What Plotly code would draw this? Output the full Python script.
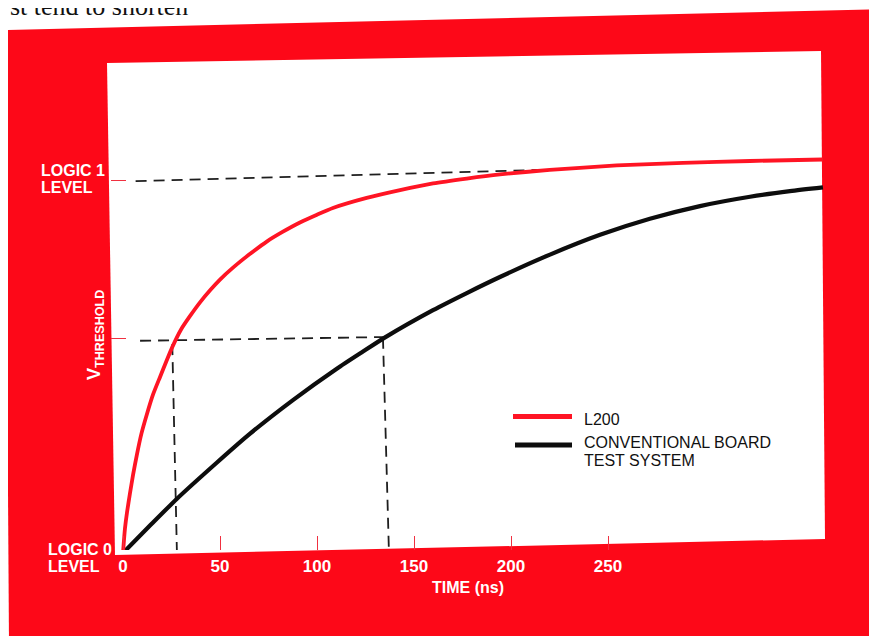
import plotly.graph_objects as go

# ---------------- data ----------------
# time in ns; voltage normalised so that LOGIC 0 = 0 and LOGIC 1 = 1
l200_name = "L200"
l200_t = [0, 1.0, 2.1, 3.6, 5.2, 7.1, 9.5, 12.2, 15.5, 19.1, 22.2, 25.4, 30.0,
          34.5, 39.7, 45.0, 50.0, 56.7, 65.0, 74.1, 82.0, 91.2, 100.0, 108.2,
          125.6, 142.8, 159.8, 177.2, 194.3, 220.0, 254.5, 288.7, 323.2, 360.8]
l200_v = [0, 0.065, 0.110, 0.160, 0.210, 0.262, 0.320, 0.370, 0.425, 0.472,
          0.512, 0.552, 0.600, 0.635, 0.672, 0.705, 0.733, 0.765, 0.800, 0.835,
          0.860, 0.886, 0.907, 0.925, 0.952, 0.973, 0.991, 1.004, 1.015, 1.027,
          1.039, 1.046, 1.051, 1.055]

conv_name_1 = "CONVENTIONAL BOARD"
conv_name_2 = "TEST SYSTEM"
conv_t = [0, 13.9, 27.7, 48.3, 65.5, 87.6, 110.2, 123.7, 135.1, 159.8, 177.2,
          194.3, 220.1, 245.9, 271.6, 297.4, 323.2, 343.8, 360.8]
conv_v = [0, 0.0735, 0.145, 0.242, 0.320, 0.410, 0.494, 0.540, 0.578, 0.651,
          0.697, 0.740, 0.800, 0.853, 0.896, 0.930, 0.955, 0.970, 0.980]

# dashed guide lines (as drawn in the picture)
logic1_t = [6.5, 215.0]
logic1_v = [0.997, 1.027]
thr_t = [8.8, 135.0]
thr_v = [0.569, 0.579]
thr_l200_t = [25.4, 27.8]
thr_l200_v = [0.560, 0.0]
thr_conv_t = [134.0, 137.1]
thr_conv_v = [0.577, 0.0]

time_ticks = [0, 50, 100, 150, 200, 250]
level_ticks = [0.574, 1.0]
x_title = "TIME (ns)"
y_title = "V<sub>THRESHOLD</sub>"
logic1_label = ["LOGIC 1", "LEVEL"]
logic0_label = ["LOGIC 0", "LEVEL"]
top_text = "st tend to shorten"

# ---------------- layout helpers ----------------
# the page body adds an 8 px offset, so the figure is drawn 8 px smaller
OFF = 8
W, H = 877 - OFF, 636 - OFF
L, R, T, B = 111 - OFF, 52, 50 - OFF, 86
PW, PH = W - L - R, H - T - B
X0PX, XSCALE = 123.0, 1.94      # window pixel of t=0, pixels per ns
Y0PX, YSCALE = 553.0, 373.0     # window pixel of v=0, pixels per unit
PL, PT = L + OFF, T + OFF       # plot area corner in window pixels


def px(xw):
    return (xw - PL) / PW


def py(yw):
    return (PT + PH - yw) / PH


def quad(pts):
    return "M " + " L ".join(f"{px(a):.5f},{py(b):.5f}" for a, b in pts) + " Z"


RED_BG = "#fd0818"
RED_LINE = "#ff1424"
BLACK = "#0d0d0d"
DASH = "#1e1e1e"
FONT = "Liberation Sans, Arial, sans-serif"

fig = go.Figure()

dash_style = dict(color=DASH, width=1.8, dash="11px,7px")
for tt, vv in [(logic1_t, logic1_v), (thr_t, thr_v),
               (thr_l200_t, thr_l200_v), (thr_conv_t, thr_conv_v)]:
    fig.add_trace(go.Scatter(x=tt, y=vv, mode="lines", line=dash_style,
                             showlegend=False, hoverinfo="skip", cliponaxis=False))

fig.add_trace(go.Scatter(x=conv_t, y=conv_v, mode="lines", name=conv_name_1,
                         line=dict(color=BLACK, width=4.2, shape="spline", smoothing=0.6),
                         showlegend=False, cliponaxis=False))
fig.add_trace(go.Scatter(x=l200_t, y=l200_v, mode="lines", name=l200_name,
                         line=dict(color=RED_LINE, width=3.8, shape="spline", smoothing=0.6),
                         showlegend=False, cliponaxis=False))

shapes = [
    dict(type="path", xref="paper", yref="paper", layer="below",
         path=quad([(5, 30), (885, 9), (885, 645), (9, 645)]),
         fillcolor=RED_BG, line=dict(width=0)),
    dict(type="path", xref="paper", yref="paper", layer="below",
         path=quad([(107, 63), (821, 51), (825, 539), (115, 555)]),
         fillcolor="white", line=dict(width=0)),
    # legend samples
    dict(type="line", xref="paper", yref="paper", x0=px(513), x1=px(572),
         y0=py(416.5), y1=py(416.5), line=dict(color=RED_LINE, width=5)),
    dict(type="line", xref="paper", yref="paper", x0=px(515), x1=px(572),
         y0=py(445), y1=py(445), line=dict(color=BLACK, width=5)),
]

ann = []


def add_text(text, xw, yw, size, color, bold=False, xanchor="left", angle=0, family=FONT):
    ann.append(dict(text=f"<b>{text}</b>" if bold else text, xref="paper", yref="paper",
                    x=px(xw), y=py(yw), xanchor=xanchor, yanchor="middle",
                    showarrow=False, textangle=angle,
                    font=dict(family=family, size=size, color=color)))


add_text(logic1_label[0], 39, 170, 16, "white", bold=True)
add_text(logic1_label[1], 39, 187.5, 16, "white", bold=True)
add_text(logic0_label[0], 46, 549.5, 16, "white", bold=True)
add_text(logic0_label[1], 46, 566.5, 16, "white", bold=True)
add_text(y_title, 95, 335, 18, "white", bold=True, xanchor="center", angle=-90)
add_text(l200_name, 582, 419, 16, "#111111")
add_text(conv_name_1, 582, 442.5, 16, "#111111")
add_text(conv_name_2, 582, 460.5, 16, "#111111")
add_text(top_text, 8, 7, 26, "#111111", family="Liberation Serif, Times New Roman, serif")

fig.update_layout(
    width=W, height=H,
    margin=dict(l=L, r=R, t=T, b=B, pad=0),
    paper_bgcolor="white", plot_bgcolor="rgba(0,0,0,0)",
    shapes=shapes, annotations=ann, showlegend=False,
    xaxis=dict(range=[(PL - X0PX) / XSCALE, (PL + PW - X0PX) / XSCALE],
               tickvals=time_ticks, ticks="inside", ticklen=14, tickwidth=1.3,
               tickcolor="#f03040", showgrid=False, zeroline=False, showline=False,
               tickfont=dict(family=FONT, size=17, color="white", weight="bold"),
               ticklabelstandoff=4,
               title=dict(text=x_title, standoff=6,
                          font=dict(family=FONT, size=16, color="white", weight="bold"))),
    yaxis=dict(range=[(Y0PX - (PT + PH)) / YSCALE, (Y0PX - PT) / YSCALE],
               tickvals=level_ticks, ticks="inside", ticklen=15, tickwidth=1.3,
               tickcolor="#f03040", showticklabels=False, showgrid=False,
               zeroline=False, showline=False),
)

fig.write_html("out.html")
